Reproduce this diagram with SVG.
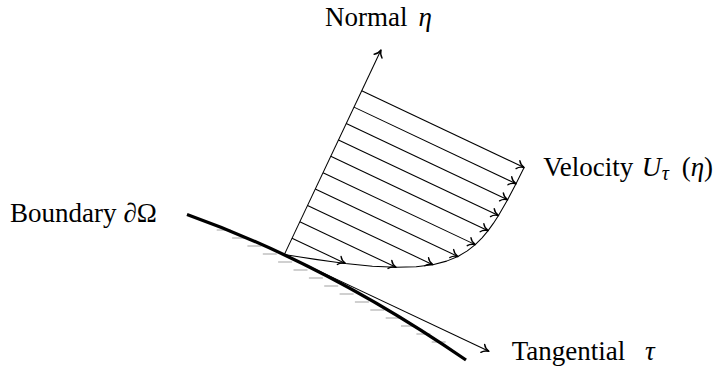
<svg xmlns="http://www.w3.org/2000/svg" width="717" height="367" viewBox="0 0 717 367">
  <style>
    text { font-family: 'Liberation Serif', 'Times New Roman', Times, serif; font-size: 27px; fill: #000; }
    .it { font-style: italic; }
    .sub { font-size: 20px; font-style: italic; }
    .hatch { stroke: #aaaaaa; stroke-width: 1.1; fill: none; }
    .thin { stroke: #000; stroke-width: 1.05; fill: none; }
    .arr { stroke: #000; stroke-width: 1.05; fill: none; marker-end: url(#to); }
  </style>
  <defs>
    <marker id="to" viewBox="-8 -6 10 12" markerWidth="10" markerHeight="12" refX="0" refY="0" orient="auto" markerUnits="userSpaceOnUse" overflow="visible">
      <path d="M -6.8,-4.4 C -5.2,-1.8 -1.8,-0.4 0,0 C -1.8,0.4 -5.2,1.8 -6.8,4.4" fill="none" stroke="#000" stroke-width="1.4" stroke-linecap="round" stroke-linejoin="round"/>
    </marker>
  </defs>

  <rect width="717" height="367" fill="#fff"/>

  <g id="hatching">
    <line class="hatch" x1="216.7" y1="230" x2="230.7" y2="230"/>
    <line class="hatch" x1="232.1" y1="238" x2="246.1" y2="238"/>
    <line class="hatch" x1="247.4" y1="246" x2="261.4" y2="246"/>
    <line class="hatch" x1="262.8" y1="254" x2="276.8" y2="254"/>
    <line class="hatch" x1="278.1" y1="262" x2="292.1" y2="262"/>
    <line class="hatch" x1="293.5" y1="270" x2="307.5" y2="270"/>
    <line class="hatch" x1="308.9" y1="278" x2="322.9" y2="278"/>
    <line class="hatch" x1="324.2" y1="286" x2="338.2" y2="286"/>
    <line class="hatch" x1="339.6" y1="294" x2="353.6" y2="294"/>
    <line class="hatch" x1="354.9" y1="302" x2="368.9" y2="302"/>
    <line class="hatch" x1="370.3" y1="310" x2="384.3" y2="310"/>
    <line class="hatch" x1="385.7" y1="318" x2="399.7" y2="318"/>
    <line class="hatch" x1="401.0" y1="326" x2="415.0" y2="326"/>
    <line class="hatch" x1="416.4" y1="334" x2="430.4" y2="334"/>
    <line class="hatch" x1="431.7" y1="342" x2="445.7" y2="342"/>
  </g>

  <g id="boundary">
    <path d="M 187,214.5 Q 326.5,264.3 466,360" fill="none" stroke="#000" stroke-width="3.3"/>
  </g>

  <g id="connectors">
    <line id="normal-axis" class="arr" x1="284.3" y1="254.6" x2="381" y2="50"/>
    <line id="tangential-axis" class="arr" x1="284.3" y1="254.6" x2="488.9" y2="351.3"/>
    <g id="velocity-arrows">
      <line class="arr" x1="292.04" y1="238.22" x2="345.36" y2="263.41"/>
      <line class="arr" x1="299.78" y1="221.83" x2="396.05" y2="267.32"/>
      <line class="arr" x1="307.52" y1="205.45" x2="432.83" y2="264.66"/>
      <line class="arr" x1="315.26" y1="189.06" x2="457.90" y2="256.46"/>
      <line class="arr" x1="323.01" y1="172.68" x2="475.26" y2="244.61"/>
      <line class="arr" x1="330.75" y1="156.30" x2="488.13" y2="230.66"/>
      <line class="arr" x1="338.49" y1="139.91" x2="498.50" y2="215.51"/>
      <line class="arr" x1="346.23" y1="123.53" x2="507.59" y2="199.77"/>
      <line class="arr" x1="353.97" y1="107.14" x2="516.01" y2="183.70"/>
      <line class="arr" x1="361.71" y1="90.76" x2="524.11" y2="167.49"/>
    </g>
    <polyline id="profile" class="thin" stroke-linejoin="round" points="284.3,254.6 300.04,257.02 315.58,259.36 330.73,261.50 345.36,263.41 372.39,266.16 396.05,267.32 416.14,266.79 432.83,264.66 446.58,261.13 457.90,256.46 467.31,250.88 475.26,244.61 482.07,237.81 488.13,230.66 493.51,223.17 498.50,215.51 507.59,199.77 516.01,183.70 524.11,167.49"/>
  </g>

  <g id="label-normal">
    <text font-family="Liberation Serif, serif" y="25.5"><tspan x="325">Normal</tspan><tspan class="it" x="418.5">η</tspan></text>
  </g>
  <g id="label-boundary">
    <text font-family="Liberation Serif, serif" y="221.7"><tspan x="10">Boundary</tspan><tspan x="123.5">∂Ω</tspan></text>
  </g>
  <g id="label-velocity">
    <text font-family="Liberation Serif, serif" y="176"><tspan x="543.3">Velocity</tspan><tspan class="it" x="641.7">U</tspan><tspan class="sub" x="661.7" y="180">τ</tspan><tspan x="681.7" y="176">(</tspan><tspan class="it">η</tspan><tspan>)</tspan></text>
  </g>
  <g id="label-tangential">
    <text font-family="Liberation Serif, serif" y="360"><tspan x="511.7">Tangential</tspan><tspan class="it" x="645">τ</tspan></text>
  </g>
</svg>
